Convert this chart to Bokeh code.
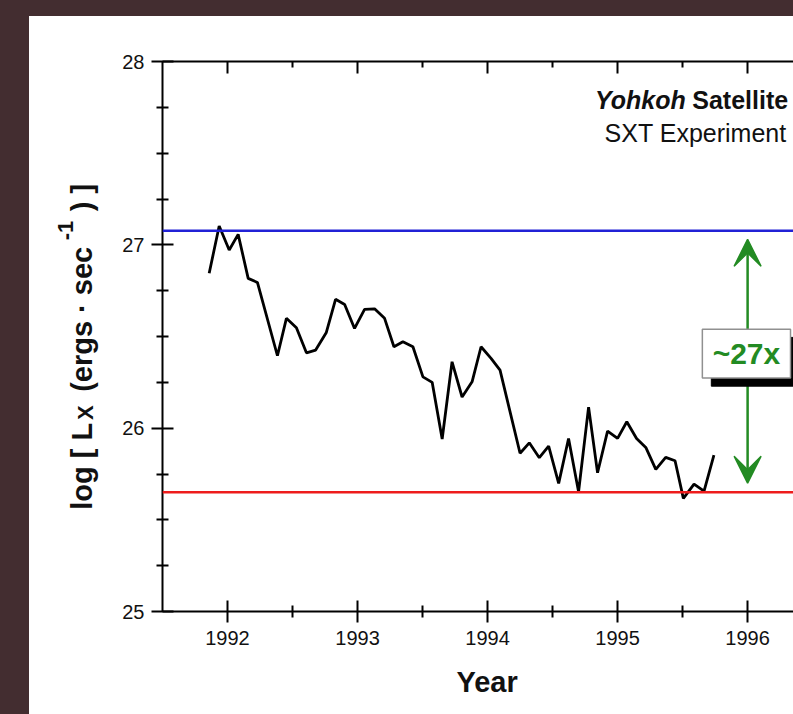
from bokeh.plotting import figure
from bokeh.layouts import row
from bokeh.models import (Range1d, FixedTicker, Span, Label, Arrow, VeeHead,
                          LinearAxis, Title, GlobalInlineStyleSheet)
from bokeh.embed import file_html
from bokeh.resources import INLINE
import math

# ---------------- data ----------------
years = [1991.859, 1991.936, 1992.013, 1992.082, 1992.159, 1992.230, 1992.384,
         1992.453, 1992.530, 1992.607, 1992.678, 1992.760, 1992.831, 1992.901,
         1992.977, 1993.054, 1993.131, 1993.208, 1993.280, 1993.349, 1993.426,
         1993.503, 1993.574, 1993.651, 1993.727, 1993.804, 1993.881, 1993.950,
         1994.027, 1994.096, 1994.250, 1994.321, 1994.398, 1994.470, 1994.547,
         1994.623, 1994.700, 1994.777, 1994.846, 1994.923, 1995.000, 1995.071,
         1995.146, 1995.217, 1995.294, 1995.370, 1995.442, 1995.506, 1995.588,
         1995.665, 1995.741]
log_lx = [26.845, 27.103, 26.972, 27.057, 26.817, 26.795, 26.395,
          26.599, 26.548, 26.411, 26.426, 26.522, 26.703, 26.675,
          26.544, 26.648, 26.651, 26.599, 26.444, 26.471, 26.444,
          26.280, 26.250, 25.941, 26.362, 26.170, 26.253, 26.444,
          26.381, 26.317, 25.863, 25.920, 25.839, 25.902, 25.699,
          25.944, 25.653, 26.115, 25.757, 25.984, 25.944, 26.035,
          25.944, 25.895, 25.775, 25.841, 25.822, 25.617, 25.695,
          25.657, 25.853]

max_level = 27.077
min_level = 25.65
ratio_text = "~27x"

x_major_ticks = [1992, 1993, 1994, 1995, 1996]
x_minor_ticks = [1992.5, 1993.5, 1994.5, 1995.5, 1996.5]
y_major_ticks = [25, 26, 27, 28]
y_minor_ticks = [25.25, 25.5, 25.75, 26.25, 26.5, 26.75, 27.25, 27.5, 27.75]

# y-axis title pieces: text, font size, baseline shift (px, + = toward plot)
ytitle_parts = [("log [ L", "29px", 0), ("X", "22px", 4), ("(ergs \u00b7 sec", "29px", 0),
                ("-1", "22px", -16), (") ]", "29px", 0)]

# ---------------- annotation placement ----------------
X0, X1 = 1991.5, 1996.353
Y0, Y1 = 25.0, 28.0
arrow_x, arrow_y0, arrow_y1 = 1996.0, 25.70, 27.03
box_l, box_r, box_t, box_b = 1995.652, 1996.330, 26.539, 26.273
shadow_dx, shadow_dy = 0.069, 0.044
ytitle_baseline = 52                                    # px inside the strip
ytitle_starts = [25.555, 26.045, 26.198, 27.025, 27.183]  # along the y scale
cap1_y, cap2_y = 27.791, 27.610

FONT = "Liberation Sans"
GREEN = "#238b23"
INK = "#111111"
H = 698
STRIP_W = 80
B_TOP, B_BOT = 45, 102

# ---------- narrow strip holding the rotated y-axis title ----------
yl = figure(width=STRIP_W, height=H, x_range=Range1d(0, STRIP_W), y_range=Range1d(Y0, Y1),
            x_axis_type=None, y_axis_type=None, output_backend="svg",
            toolbar_location=None, min_border_left=0, min_border_right=0,
            min_border_top=B_TOP, min_border_bottom=B_BOT,
            background_fill_color="white", border_fill_color="white")
yl.outline_line_color = None
yl.grid.visible = False
for (txt, fs, shift), ys in zip(ytitle_parts, ytitle_starts):
    yl.add_layout(Label(x=ytitle_baseline + shift, y=ys, text=txt, angle=math.pi / 2,
                        text_align="left", text_baseline="alphabetic",
                        text_font=FONT, text_font_style="bold", text_font_size=fs,
                        text_color=INK))

# ---------------- main plot ----------------
p = figure(width=764 - STRIP_W, height=H,
           x_range=Range1d(X0, X1), y_range=Range1d(Y0, Y1),
           output_backend="svg", toolbar_location=None,
           min_border_left=53, min_border_right=0,
           min_border_top=B_TOP, min_border_bottom=B_BOT,
           background_fill_color="white", border_fill_color="white")
p.outline_line_color = None
p.grid.visible = False

def style_axis(ax, tin, tout, minin, minout):
    ax.axis_line_width = 2
    ax.axis_line_color = "black"
    ax.major_tick_line_width = 2
    ax.minor_tick_line_width = 2
    ax.major_tick_in = tin
    ax.major_tick_out = tout
    ax.minor_tick_in = minin
    ax.minor_tick_out = minout

xa = p.xaxis[0]
xa.ticker = FixedTicker(ticks=x_major_ticks, minor_ticks=x_minor_ticks)
style_axis(xa, 11, 11, 6, 6)
xa.major_label_standoff = 8
xa.major_label_text_font = FONT
xa.major_label_text_font_size = "20px"
xa.major_label_text_color = INK

ya = p.yaxis[0]
ya.ticker = FixedTicker(ticks=y_major_ticks, minor_ticks=y_minor_ticks)
style_axis(ya, 11, 11, 6, 6)
ya.major_label_standoff = 7
ya.major_label_text_font = FONT
ya.major_label_text_font_size = "20px"
ya.major_label_text_color = INK

ta = LinearAxis(ticker=FixedTicker(ticks=x_major_ticks, minor_ticks=x_minor_ticks),
                major_label_overrides={t: "" for t in x_major_ticks})
style_axis(ta, 12, 0, 6, 0)
ta.major_label_text_font_size = "1px"
p.add_layout(ta, "above")

# x-axis title
p.add_layout(Title(text="Year", align="left", offset=294, standoff=33,
                   text_font=FONT, text_font_style="bold", text_font_size="29px",
                   text_color=INK), "below")

# reference levels
p.add_layout(Span(location=max_level, dimension="width", line_color="#2121d6", line_width=2.5))
p.add_layout(Span(location=min_level, dimension="width", line_color="#ee1c1c", line_width=2.5))

# the data
p.line(years, log_lx, line_color="black", line_width=2.8)

# double arrow (under the label box)
arr = Arrow(x_start=arrow_x, y_start=arrow_y0, x_end=arrow_x, y_end=arrow_y1,
            line_color=GREEN, line_width=2.5, level="underlay",
            start=VeeHead(size=27, fill_color=GREEN, line_color=GREEN, line_width=1.5),
            end=VeeHead(size=27, fill_color=GREEN, line_color=GREEN, line_width=1.5))
p.add_layout(arr)

# label box with drop shadow
p.quad(left=[box_l + shadow_dx], right=[box_r + shadow_dx],
       top=[box_t - shadow_dy], bottom=[box_b - shadow_dy],
       fill_color="black", line_color="black")
p.quad(left=[box_l], right=[box_r], top=[box_t], bottom=[box_b],
       fill_color="white", line_color="#909090", line_width=1.5)
p.add_layout(Label(x=(box_l + box_r) / 2, y=(box_t + box_b) / 2, text=ratio_text,
                   text_align="center", text_baseline="middle",
                   text_font=FONT, text_font_style="bold", text_font_size="30px",
                   text_color=GREEN))

# top-right caption
p.add_layout(Label(x=1995.524, y=cap1_y, text="Yohkoh", text_align="right",
                   text_baseline="alphabetic", text_font=FONT,
                   text_font_style="bold italic", text_font_size="25px", text_color=INK))
p.add_layout(Label(x=1996.312, y=cap1_y, text="Satellite", text_align="right",
                   text_baseline="alphabetic", text_font=FONT,
                   text_font_style="bold", text_font_size="25px", text_color=INK))
p.add_layout(Label(x=1996.30, y=cap2_y, text="SXT Experiment", text_align="right",
                   text_baseline="alphabetic", text_font=FONT,
                   text_font_size="25px", text_color=INK))

layout = row(yl, p, spacing=0)
layout.margin = (16, 0, 0, 29)
layout.styles = {"background-color": "white"}
layout.stylesheets = [GlobalInlineStyleSheet(
    css="html, body { margin:0; padding:0; overflow:hidden; background-color:#432d30; }")]

open("out.html", "w").write(file_html(layout, INLINE))
